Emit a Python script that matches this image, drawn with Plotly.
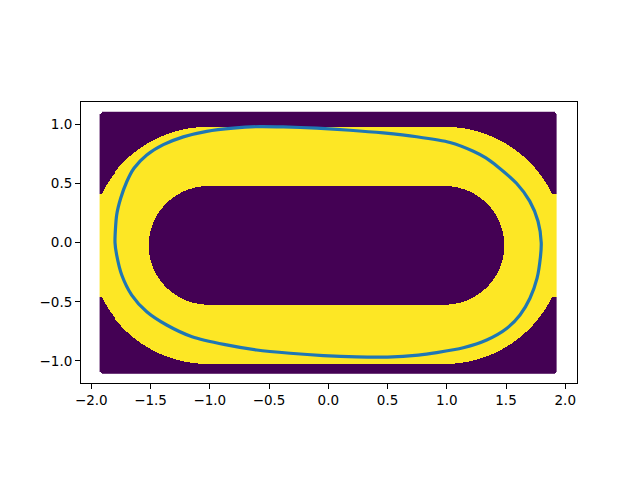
import numpy as np
import plotly.graph_objects as go

# ---- track geometry (stadium-shaped ring) ----
TRACK_HALF_LENGTH = 1.0      # half length of straight section
INNER_RADIUS = 0.5
OUTER_RADIUS = 1.0
GRID_X_LIMITS = [-1.9, 1.9]  # sample grid extent
GRID_Y_LIMITS = [-1.075, 1.075]
POINT_RADIUS = 0.03          # radius of each sample marker
DRAW_OFFSET = [0.0125, 0.02] # overlap shift caused by drawing order

# ---- trajectory ----
curve_x = [-1.800, -1.786, -1.752, -1.701, -1.640, -1.532, -1.392, -1.224, -1.026,
           -0.802, -0.580, -0.380, -0.098, 0.183, 0.464, 0.746, 1.027, 1.224,
           1.330, 1.430, 1.590, 1.700, 1.770, 1.797, 1.790, 1.762, 1.702, 1.618,
           1.505, 1.337, 1.139, 0.915, 0.760, 0.500, 0.240, -0.042, -0.323,
           -0.604, -0.870, -1.150, -1.364, -1.532, -1.659, -1.743, -1.786, -1.800]
curve_y = [0.000, 0.233, 0.374, 0.514, 0.628, 0.740, 0.827, 0.893, 0.940,
           0.967, 0.980, 0.977, 0.966, 0.949, 0.926, 0.894, 0.846, 0.772,
           0.715, 0.641, 0.499, 0.350, 0.180, 0.000, -0.125, -0.300, -0.470, -0.611,
           -0.726, -0.823, -0.888, -0.929, -0.950, -0.967, -0.966, -0.955, -0.935,
           -0.907, -0.862, -0.795, -0.696, -0.584, -0.443, -0.274, -0.105, 0.000]

x_tick_vals = [-2.0, -1.5, -1.0, -0.5, 0.0, 0.5, 1.0, 1.5, 2.0]
x_tick_text = ["−2.0", "−1.5", "−1.0", "−0.5", "0.0", "0.5", "1.0", "1.5", "2.0"]
y_tick_vals = [-1.0, -0.5, 0.0, 0.5, 1.0]
y_tick_text = ["−1.0", "−0.5", "0.0", "0.5", "1.0"]

# ---- build the in-track indicator grid ----
x_edges = np.linspace(GRID_X_LIMITS[0] - POINT_RADIUS, GRID_X_LIMITS[1] + POINT_RADIUS, 461)
y_edges = np.linspace(GRID_Y_LIMITS[0] - POINT_RADIUS, GRID_Y_LIMITS[1] + POINT_RADIUS, 263)
xc = 0.5 * (x_edges[:-1] + x_edges[1:])
yc = 0.5 * (y_edges[:-1] + y_edges[1:])
XX, YY = np.meshgrid(xc, yc)

sx = np.clip(XX + DRAW_OFFSET[0], GRID_X_LIMITS[0], GRID_X_LIMITS[1])
sy = np.clip(YY + DRAW_OFFSET[1], GRID_Y_LIMITS[0], GRID_Y_LIMITS[1])
px = np.clip(sx, -TRACK_HALF_LENGTH, TRACK_HALF_LENGTH)
dist = np.hypot(sx - px, sy)
z = ((dist >= INNER_RADIUS) & (dist <= OUTER_RADIUS)).astype(float)

# rounded corners of the marker cloud
cx = np.clip(XX, GRID_X_LIMITS[0], GRID_X_LIMITS[1])
cy = np.clip(YY, GRID_Y_LIMITS[0], GRID_Y_LIMITS[1])
outside = np.hypot(XX - cx, YY - cy) > POINT_RADIUS
z[outside] = np.nan

fig = go.Figure()
fig.add_trace(go.Heatmap(
    x=x_edges, y=y_edges, z=z,
    colorscale=[[0, "#440154"], [1, "#fde725"]],
    zmin=0, zmax=1, showscale=False, hoverinfo="skip", zsmooth=False,
))
fig.add_trace(go.Scatter(
    x=curve_x, y=curve_y, mode="lines",
    line=dict(color="#1f77b4", width=3.2, shape="spline", smoothing=0.7),
    hoverinfo="skip", showlegend=False,
))

axis_common = dict(
    showgrid=False, zeroline=False, showline=True, mirror=True,
    linecolor="black", linewidth=1, ticks="outside", ticklen=5,
    tickwidth=1, tickcolor="black",
    tickfont=dict(family="DejaVu Sans", size=13.5, color="black"),
)

fig.update_layout(
    width=640, height=480,
    margin=dict(l=81, r=63, t=102, b=97),
    paper_bgcolor="white", plot_bgcolor="white",
    showlegend=False,
    xaxis=dict(range=[-2.087, 2.099], tickvals=x_tick_vals, ticktext=x_tick_text,
               **axis_common),
    yaxis=dict(range=[-1.186, 1.1875], tickvals=y_tick_vals, ticktext=y_tick_text,
               **axis_common),
)

fig.write_html("out.html")
